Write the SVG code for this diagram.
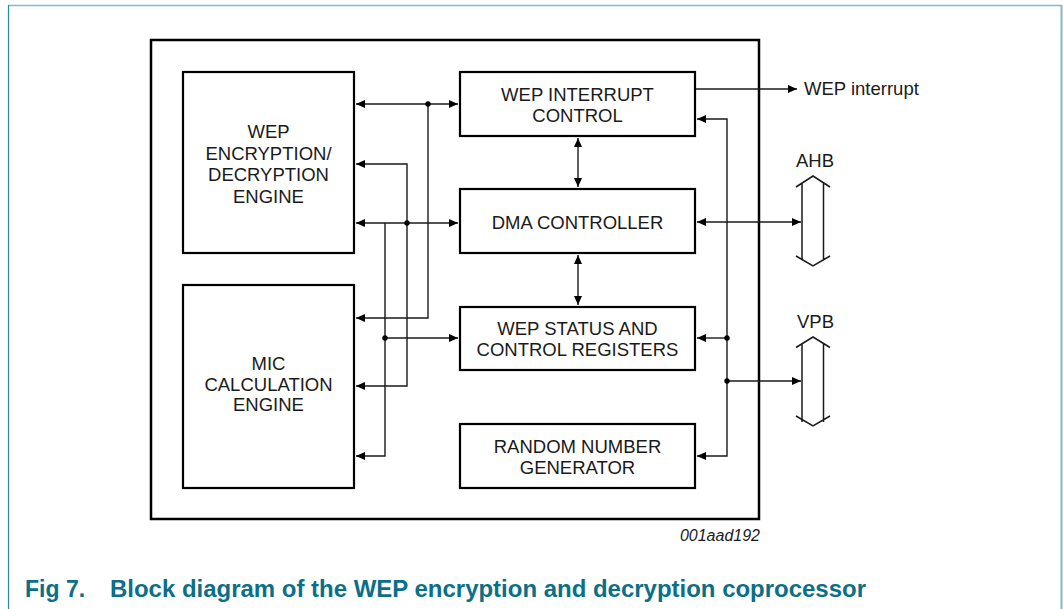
<svg xmlns="http://www.w3.org/2000/svg" width="1063" height="609" viewBox="0 0 1063 609">
<style>
  text { font-family: "Liberation Sans", Arial, sans-serif; fill: #1a1a1a; }
  .lbl { font-size: 18.5px; text-anchor: middle; }
  .ext { font-size: 18.5px; }
  .box { fill: #ffffff; stroke: #000000; stroke-width: 2.2; }
  .wire { fill: none; stroke: #1a1a1a; stroke-width: 1.4; }
  .bus { fill: none; stroke: #1a1a1a; stroke-width: 1.5; }
  .dot { fill: #000000; }
  .cap { font-size: 23px; font-weight: bold; fill: #0b6f87; }
</style>
<defs>
  <marker id="ah" viewBox="0 0 9 8" refX="9" refY="4" markerWidth="9" markerHeight="8" markerUnits="userSpaceOnUse" orient="auto-start-reverse">
    <path d="M0,0 L9,4 L0,8 z" fill="#000000"/>
  </marker>
</defs>
<rect width="1063" height="609" fill="#ffffff"/>
<!-- page frame -->
<g id="frame">
  <line x1="8" y1="5.5" x2="1062" y2="5.5" stroke="#7fbccb" stroke-width="1.5"/>
  <line x1="8.5" y1="5" x2="8.5" y2="609" stroke="#2a8aa0" stroke-width="1.2"/>
  <line x1="1061.5" y1="5" x2="1061.5" y2="609" stroke="#7fbccb" stroke-width="2"/>
</g>
<!-- outer block -->
<rect id="coprocessor" x="151" y="40" width="608" height="479" fill="none" stroke="#000000" stroke-width="2.5"/>

<g id="wep-engine">
  <rect class="box" x="183" y="72" width="171" height="181"/>
  <text class="lbl" x="268.5" y="138">WEP</text>
  <text class="lbl" x="268.5" y="159.5">ENCRYPTION/</text>
  <text class="lbl" x="268.5" y="181">DECRYPTION</text>
  <text class="lbl" x="268.5" y="202.5">ENGINE</text>
</g>
<g id="mic-engine">
  <rect class="box" x="183" y="285" width="171" height="203"/>
  <text class="lbl" x="268.5" y="369.5">MIC</text>
  <text class="lbl" x="268.5" y="390.5">CALCULATION</text>
  <text class="lbl" x="268.5" y="411">ENGINE</text>
</g>
<g id="interrupt-control">
  <rect class="box" x="460" y="72" width="235" height="64"/>
  <text class="lbl" x="577.5" y="100.5">WEP INTERRUPT</text>
  <text class="lbl" x="577.5" y="121.5">CONTROL</text>
</g>
<g id="dma-controller">
  <rect class="box" x="460" y="189" width="235" height="64"/>
  <text class="lbl" x="577.5" y="228.5">DMA CONTROLLER</text>
</g>
<g id="status-registers">
  <rect class="box" x="460" y="307" width="235" height="63"/>
  <text class="lbl" x="577.5" y="334.5">WEP STATUS AND</text>
  <text class="lbl" x="577.5" y="356">CONTROL REGISTERS</text>
</g>
<g id="rng">
  <rect class="box" x="460" y="424" width="235" height="64"/>
  <text class="lbl" x="577.5" y="452.5">RANDOM NUMBER</text>
  <text class="lbl" x="577.5" y="473.5">GENERATOR</text>
</g>

<g id="ahb">
  <path class="bus" d="M796,187 L813,176 L830,187 M796,256 L813,266 L830,256 M802,182.5 V259.5 M823.5,182.5 V259.5"/>
  <text class="ext" x="796" y="167">AHB</text>
</g>
<g id="vpb">
  <path class="bus" d="M796,347.5 L813,337 L830,347.5 M796,416 L813,426 L830,416 M802,343.5 V422 M823.5,343.5 V422"/>
  <text class="ext" x="797" y="328">VPB</text>
</g>
<g id="wep-interrupt-out">
  <text class="ext" x="804" y="95">WEP interrupt</text>
</g>

<g id="connectors">
  <!-- left side -->
  <path class="wire" d="M356,104 H458" marker-start="url(#ah)" marker-end="url(#ah)"/>
  <path class="wire" d="M428,104 V318 H356" marker-end="url(#ah)"/>
  <path class="wire" d="M356,164 H407 V386 H356" marker-start="url(#ah)" marker-end="url(#ah)"/>
  <path class="wire" d="M356,223 H458" marker-start="url(#ah)" marker-end="url(#ah)"/>
  <path class="wire" d="M385,223 V456 H356" marker-end="url(#ah)"/>
  <path class="wire" d="M385,338 H458" marker-end="url(#ah)"/>
  <circle class="dot" cx="428" cy="104" r="2.7"/>
  <circle class="dot" cx="407" cy="223" r="2.7"/>
  <circle class="dot" cx="385" cy="338" r="2.7"/>
  <!-- vertical links -->
  <path class="wire" d="M578,138 V187" marker-start="url(#ah)" marker-end="url(#ah)"/>
  <path class="wire" d="M578,255 V305" marker-start="url(#ah)" marker-end="url(#ah)"/>
  <!-- right side -->
  <path class="wire" d="M696,89 H797" marker-end="url(#ah)"/>
  <path class="wire" d="M697,222 H801" marker-start="url(#ah)" marker-end="url(#ah)"/>
  <path class="wire" d="M697,119 H727 V456 H697" marker-start="url(#ah)" marker-end="url(#ah)"/>
  <path class="wire" d="M727,338 H697" marker-end="url(#ah)"/>
  <path class="wire" d="M727,381 H801" marker-end="url(#ah)"/>
  <circle class="dot" cx="727" cy="338" r="2.7"/>
  <circle class="dot" cx="727" cy="381" r="2.7"/>
</g>

<text x="760" y="541" font-size="16" font-style="italic" text-anchor="end">001aad192</text>
<text class="cap" x="25" y="597">Fig 7.</text>
<text class="cap" x="110" y="597" textLength="756" lengthAdjust="spacingAndGlyphs">Block diagram of the WEP encryption and decryption coprocessor</text>
</svg>
